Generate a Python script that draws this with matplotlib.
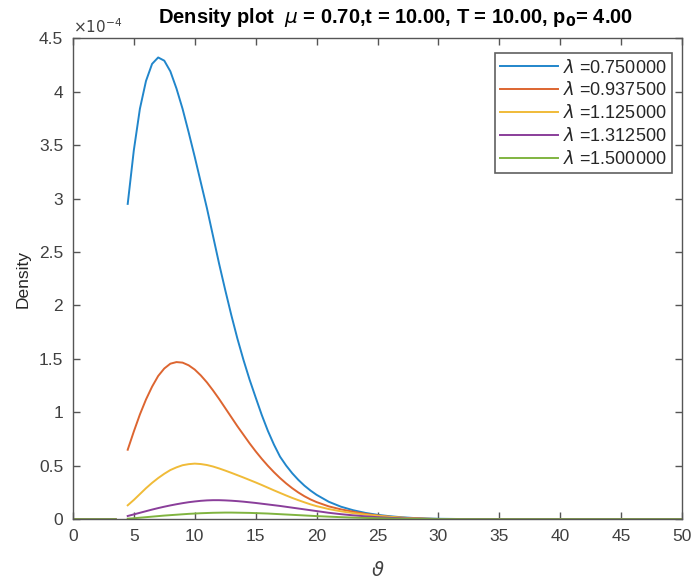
import numpy as np
import matplotlib
matplotlib.use("Agg")
import matplotlib.pyplot as plt
from matplotlib.ticker import FixedLocator, FuncFormatter

# ---- data (density values in units of 1e-4) ----
nan = float("nan")
theta = [0, 3.5, 4.0,
         4.5, 5.0, 5.5, 6.0, 6.5, 7.0, 7.5, 8.0, 8.5, 9.0, 9.5, 10.0, 10.5, 11.0, 11.5, 12.0,
         12.5, 13.0, 13.5, 14.0, 14.5, 15.0, 15.5, 16.0, 16.5, 17.0, 17.5, 18.0, 18.5, 19.0,
         19.5, 20.0,
         21, 22, 23, 24, 25, 26, 27, 28, 29, 30,
         32, 35, 40, 45, 50]
dens_075 = [0, 0, nan,
            2.95, 3.45, 3.84, 4.10, 4.26, 4.32, 4.29, 4.19, 4.03, 3.84, 3.62, 3.39, 3.15, 2.91,
            2.65, 2.39, 2.145, 1.91, 1.69, 1.49, 1.306, 1.139, 0.975, 0.827, 0.698, 0.585, 0.502,
            0.43, 0.368, 0.314, 0.268, 0.228,
            0.163, 0.117, 0.084, 0.059, 0.041, 0.028, 0.018, 0.011, 0.007, 0.004,
            0.0015, 0, 0, 0, 0]
dens_09375 = [0, 0, nan,
              0.65, 0.82, 0.98, 1.12, 1.24, 1.34, 1.41, 1.455, 1.47, 1.465, 1.44, 1.40, 1.345,
              1.28, 1.205, 1.125, 1.04, 0.955, 0.87, 0.79, 0.71, 0.635, 0.565, 0.50, 0.44, 0.385,
              0.335, 0.29, 0.25, 0.215, 0.185, 0.16,
              0.12, 0.092, 0.07, 0.05, 0.035, 0.023, 0.014, 0.008, 0.004, 0.002,
              0.0005, 0, 0, 0, 0]
dens_1125 = [0, 0, nan,
             0.13, 0.18, 0.235, 0.29, 0.34, 0.385, 0.425, 0.46, 0.485, 0.505, 0.515, 0.52,
             0.516, 0.507, 0.493, 0.475, 0.455, 0.434, 0.412, 0.39, 0.367, 0.344, 0.32, 0.295,
             0.27, 0.246, 0.222, 0.199, 0.178, 0.158, 0.139, 0.122,
             0.095, 0.074, 0.057, 0.043, 0.032, 0.022, 0.014, 0.008, 0.004, 0.002,
             0.0005, 0, 0, 0, 0]
dens_13125 = [0, 0, nan,
              0.03, 0.045, 0.06, 0.075, 0.09, 0.104, 0.117, 0.129, 0.14, 0.15, 0.159, 0.166,
              0.172, 0.176, 0.178, 0.178, 0.176, 0.173, 0.169, 0.164, 0.158, 0.152, 0.145,
              0.138, 0.131, 0.124, 0.116, 0.108, 0.10, 0.092, 0.084, 0.076,
              0.06, 0.047, 0.036, 0.027, 0.019, 0.013, 0.008, 0.005, 0.003, 0.001,
              0.0003, 0, 0, 0, 0]
dens_15 = [0, 0, nan,
           0.005, 0.009, 0.014, 0.019, 0.024, 0.029, 0.034, 0.038, 0.042, 0.046, 0.05, 0.053,
           0.056, 0.058, 0.06, 0.061, 0.062, 0.062, 0.061, 0.06, 0.059, 0.057, 0.055, 0.053,
           0.05, 0.047, 0.044, 0.041, 0.038, 0.035, 0.032, 0.029,
           0.024, 0.019, 0.015, 0.012, 0.009, 0.006, 0.004, 0.003, 0.002, 0.001,
           0.0003, 0, 0, 0, 0]
series = [dens_075, dens_09375, dens_1125, dens_13125, dens_15]
lambdas = ["0.750000", "0.937500", "1.125000", "1.312500", "1.500000"]
colors = ["#2186CB", "#DD6530", "#F0BB38", "#8A3E9A", "#80B440"]
xticks = list(range(0, 51, 5))
yticks = [0, 0.5, 1, 1.5, 2, 2.5, 3, 3.5, 4, 4.5]

plt.rcParams['font.family'] = ['Liberation Sans', 'DejaVu Sans']

fig = plt.figure(figsize=(6.94, 5.88), dpi=100)
ax = fig.add_axes([0.105, 0.117, 0.878, 0.818])

for vals, lam, c in zip(series, lambdas, colors):
    ax.plot(theta, np.array(vals) * 1e-4, color=c, lw=1.4,
            label=r"$\lambda$ =" + lam)

ax.set_xlim(0, 50)
ax.set_ylim(0, 4.5e-4)
ax.xaxis.set_major_locator(FixedLocator(xticks))
ax.yaxis.set_major_locator(FixedLocator([v * 1e-4 for v in yticks]))
ax.yaxis.set_major_formatter(FuncFormatter(lambda v, p: f"{v * 1e4:g}"))

axcol = "#555555"
for s in ax.spines.values():
    s.set_color(axcol)
    s.set_linewidth(1.0)
ax.tick_params(direction="in", top=True, right=True, length=5, width=1.0,
               colors=axcol, labelsize=12.5, labelcolor="#404040", pad=7)

ax.text(0.0, 1.004, r"$\times10^{-4}$", transform=ax.transAxes, fontsize=11,
        color="#404040", ha="left", va="bottom")

ax.set_xlabel(r"$\vartheta$", fontsize=14, color="#404040", labelpad=12)
ax.set_ylabel("Density", fontsize=12.5, color="#262626", labelpad=6)
ax.set_title(r"Density plot  $\mu$ = 0.70,t = 10.00, T = 10.00, p$_\mathbf{0}$= 4.00",
             fontsize=14.5, fontweight="bold", pad=11, x=0.529)

leg = ax.legend(loc="upper right", bbox_to_anchor=(0.9836, 0.969), fontsize=13,
                handlelength=3.2, fancybox=False, framealpha=1, borderaxespad=0,
                labelspacing=0.27, handletextpad=0.3, borderpad=0.3)
leg.get_frame().set_edgecolor("#606060")
leg.get_frame().set_linewidth(1.2)
for t in leg.get_texts():
    t.set_color("#262626")

fig.savefig("out.png", dpi=100, facecolor="white")
